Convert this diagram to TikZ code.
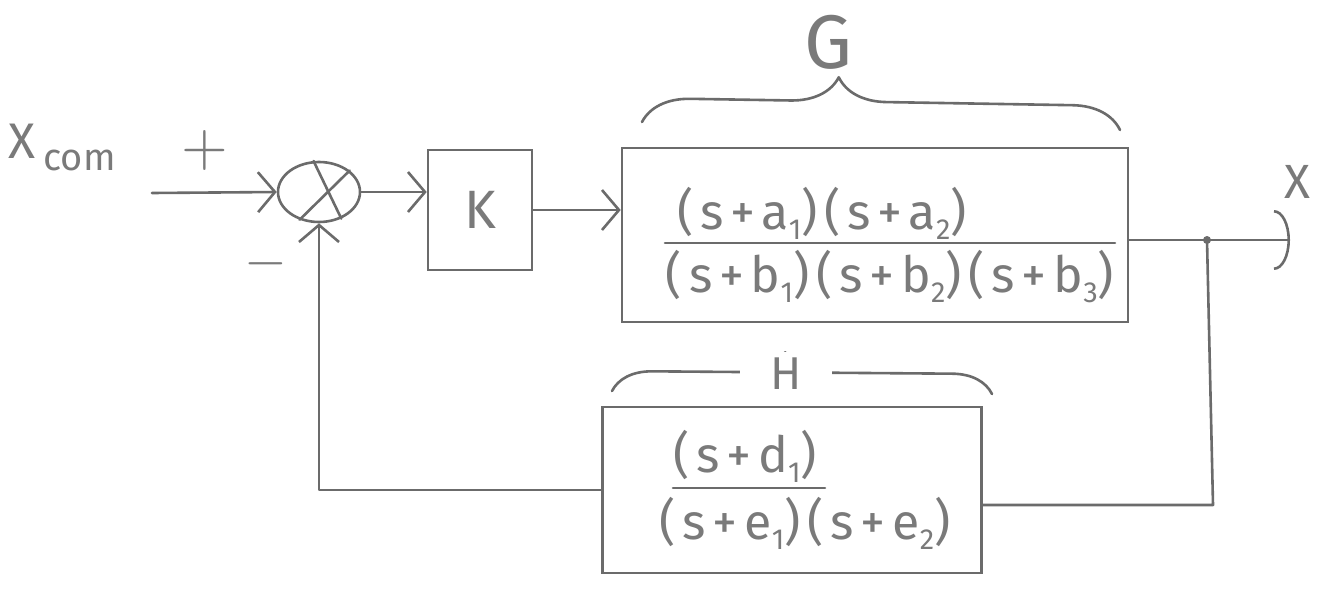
\documentclass[tikz,border=0pt]{standalone}
\usepackage{fontspec}
\setmainfont{Fira Sans}
\usetikzlibrary{arrows.meta,shapes.geometric,decorations.pathreplacing,calc}
\definecolor{pencil}{gray}{0.42}
\definecolor{lead}{gray}{0.48}
\newcommand\fracfont{\fontsize{50}{54}\selectfont\addfontfeature{LetterSpace=14}}
\newcommand\subnum[1]{\raisebox{-10pt}{\fontsize{29}{29}\selectfont #1}}
\begin{document}
\begin{tikzpicture}[x=1pt,y=-1pt,
  wire/.style={draw=pencil, line width=2.6pt, line cap=round, line join=round},
  arr/.style={wire, -{Straight Barb[length=17pt,width=40pt,line width=2.6pt]}},
  outarr/.style={wire, -{Arc Barb[length=16pt,width=60pt,line width=2.6pt]}},
  blk/.style={draw=pencil, line width=2.6pt, rectangle, inner sep=0pt},
  sumnode/.style={draw=pencil, line width=2.6pt, ellipse, minimum width=82pt, minimum height=60pt, inner sep=0pt},
  lbl/.style={text=lead, inner sep=0pt},
  gbrace/.style={wire, decorate, decoration={brace, amplitude=48pt, aspect=0.41}},
  hbrace/.style={wire, decorate, decoration={brace, amplitude=40pt, aspect=0.455}}]
\useasboundingbox (0,0) rectangle (1319,605);
\fill[white] (0,0) rectangle (1319,605);

% input label and signs
\node[lbl, font=\fontsize{50}{50}\selectfont, anchor=west] (xcom) at (8,148) {X\,\raisebox{-12pt}{\fontsize{38}{38}\selectfont com}};
\node[lbl] (plus) at (205,150) {\scalebox{6}{$+$}};
\node[lbl] (minus) at (266,264) {\scalebox{5.5}{$-$}};

% summing junction
\node[sumnode] (sum) at (319,192) {};
\draw[wire] (sum.100) -- (sum.-50);
\draw[wire] (sum.35) -- (sum.-125);
\coordinate (in) at (152,193);
\draw[arr] (in) -- (sum.west);

% K block
\node[blk, minimum width=104pt, minimum height=120pt, font=\fontsize{54}{54}\selectfont, text=lead] (K) at (480,210) {K};
\draw[arr] (sum.east) -- (sum.east -| K.west);

% G block
\node[blk, minimum width=506pt, minimum height=174pt] (G) at (875,235) {};
\draw[arr] (K.east) -- (K.east -| G.west);
\node[lbl, font=\fracfont] (Gnum) at (822,213) {(s+a\subnum{1})(s+a\subnum{2})};
\node[lbl, font=\fracfont] (Gden) at (890,277) {(s+b\subnum{1})(s+b\subnum{2})(s+b\subnum{3})};
\draw[wire] (665,243) -- (1115,243);
\draw[gbrace] (642,122) -- (1120,130);
\node[lbl, font=\fontsize{76}{76}\selectfont] (Glab) at (828,42) {G};

% output
\coordinate (j) at (1207,240);
\coordinate (xo) at (1290,240);
\draw[wire] (G.east |- j) -- (j);
\draw[outarr] (j) -- (xo);
\fill[pencil] (j) circle (4pt);
\node[lbl, font=\fontsize{48}{48}\selectfont] (X) at (1297,182) {X};

% H block
\node[blk, minimum width=379pt, minimum height=166pt] (H) at (792,490) {};
\node[lbl, font=\fracfont] (Hnum) at (745,456) {(s+d\subnum{1})};
\node[lbl, font=\fracfont] (Hden) at (805,523) {(s+e\subnum{1})(s+e\subnum{2})};
\draw[wire] (673,488) -- (825,488);
\draw[hbrace] (612,391) -- (992,394);
\node[lbl, fill=white, minimum width=92pt, minimum height=44pt, font=\fontsize{46}{46}\selectfont] (Hlab) at (786,374) {H};

% feedback
\coordinate (fb) at (1213,505);
\draw[wire] (j) -- (fb) -- (fb -| H.east);
\draw[arr] (H.west) -- (H.west -| sum.south) -- (sum.south);
\end{tikzpicture}
\end{document}
